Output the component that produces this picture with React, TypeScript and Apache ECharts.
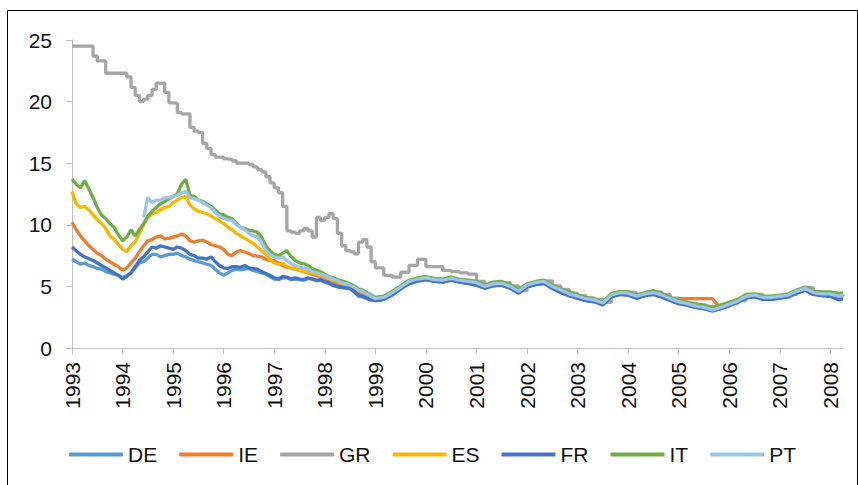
import React, { useEffect, useRef } from "react";
import * as echarts from "echarts";

// Sample dates: monthly 1993-1998, every second month from 1999
const monthly: string[] = [];
for (let y = 1993; y <= 1998; y++) for (let m = 1; m <= 12; m++) monthly.push(`${y}-${String(m).padStart(2, "0")}`);
const bimonthly: string[] = [];
for (let y = 1999; y <= 2007; y++) for (const m of [1, 3, 5, 7, 9, 11]) bimonthly.push(`${y}-${String(m).padStart(2, "0")}`);
const dates: string[] = [...monthly, ...bimonthly, "2008-01", "2008-03", "2008-04"];

const yearTicks = [1993, 1994, 1995, 1996, 1997, 1998, 1999, 2000, 2001, 2002, 2003, 2004, 2005, 2006, 2007, 2008];
const seriesNames = ["DE", "IE", "GR", "ES", "FR", "IT", "PT"];
const seriesColors = ["#5B9BD5", "#ED7D31", "#A5A5A5", "#F5B800", "#4472C4", "#70AD47", "#9DC3E6"];

const DE = [
  7.2, 7.0, 6.8, 6.9, 6.7, 6.6, 6.45, 6.4, 6.2, 6.1, 6.0, 5.9,
  5.7, 5.9, 6.1, 6.5, 6.9, 7.0, 7.3, 7.6, 7.6, 7.4, 7.5, 7.6,
  7.6, 7.7, 7.5, 7.4, 7.2, 7.1, 7.0, 6.9, 6.8, 6.7, 6.4, 6.1,
  5.9, 6.1, 6.3, 6.4, 6.35, 6.4, 6.45, 6.3, 6.2, 6.1, 6.0, 5.8,
  5.6, 5.55, 5.7, 5.7, 5.55, 5.6, 5.55, 5.5, 5.65, 5.6, 5.45, 5.5,
  5.35, 5.25, 5.05, 4.95, 4.9, 4.85, 4.8, 4.55, 4.2, 4.15, 4.0, 3.9,
  3.85, 3.95, 4.3, 4.8, 5.2, 5.4,
  5.55, 5.4, 5.35, 5.5, 5.35, 5.25,
  5.1, 4.85, 5.05, 5.1, 4.85, 4.45,
  4.95, 5.15, 5.25, 4.85, 4.5, 4.25,
  4.05, 3.85, 3.75, 3.5, 4.15, 4.35,
  4.3, 4.05, 4.25, 4.35, 4.15, 3.85,
  3.6, 3.5, 3.3, 3.2, 3.0, 3.2,
  3.45, 3.7, 4.1, 4.2, 3.95, 3.95,
  4.05, 4.15, 4.5, 4.7, 4.35, 4.25,
  4.2, 4.0, 4.1,
];

const IE = [
  10.2, 9.6, 9.1, 8.7, 8.3, 8.0, 7.7, 7.5, 7.2, 7.0, 6.8, 6.6,
  6.3, 6.5, 6.9, 7.3, 7.8, 8.3, 8.7, 8.8, 9.0, 9.1, 8.85, 8.9,
  9.0, 9.1, 9.25, 9.1, 8.7, 8.6, 8.7, 8.75, 8.6, 8.4, 8.3, 8.2,
  8.0, 7.6, 7.5, 7.8, 7.9, 7.8, 7.65, 7.5, 7.45, 7.4, 7.2, 7.1,
  7.1, 6.9, 6.7, 6.55, 6.5, 6.4, 6.35, 6.2, 6.1, 6.0, 5.9, 5.8,
  5.7, 5.5, 5.35, 5.25, 5.15, 5.0, 4.95, 4.8, 4.5, 4.4, 4.2, 4.1,
  3.95, 4.05, 4.45, 4.9, 5.35, 5.55,
  5.65, 5.5, 5.45, 5.6, 5.45, 5.35,
  5.25, 4.95, 5.15, 5.2, 4.95, 4.55,
  5.05, 5.25, 5.35, 4.95, 4.65, 4.35,
  4.15, 3.95, 3.85, 3.6, 4.25, 4.45,
  4.4, 4.15, 4.35, 4.45, 4.2, 4.0,
  4.0, 4.0, 4.0, 4.0, 4.0, 3.2,
  3.5, 3.75, 4.15, 4.25, 4.05, 4.05,
  4.15, 4.25, 4.55, 4.8, 4.45, 4.35,
  4.35, 4.15, 4.25,
];

const GR = [
  24.5, 24.5, 24.5, 24.5, 24.5, 23.7, 23.3, 23.3, 22.3, 22.3, 22.3, 22.3,
  22.3, 22.0, 21.15, 20.5, 20.0, 20.2, 20.5, 21.0, 21.5, 21.5, 20.75, 19.9,
  19.85, 19.1, 19.0, 19.0, 17.9, 17.6, 17.5, 16.6, 16.2, 15.7, 15.5, 15.5,
  15.35, 15.3, 15.2, 15.0, 15.0, 15.0, 14.9, 14.7, 14.5, 14.3, 13.9, 13.4,
  13.0, 12.6, 11.5, 9.5, 9.4, 9.3, 9.5, 9.7, 9.5, 9.0, 10.6, 10.35,
  10.6, 10.9, 10.5, 9.3, 8.3, 7.9, 7.8, 7.65, 8.6, 8.8, 8.2, 7.0,
  6.5, 5.9, 5.75, 6.15, 6.7, 7.2,
  6.6, 6.6, 6.3, 6.2, 6.1, 6.0,
  5.4, 5.05, 5.25, 5.3, 5.05, 4.65,
  5.15, 5.35, 5.45, 5.05, 4.75, 4.45,
  4.25, 4.05, 3.95, 3.7, 4.35, 4.55,
  4.5, 4.25, 4.45, 4.55, 4.35, 4.05,
  3.8, 3.65, 3.45, 3.35, 3.15, 3.35,
  3.6, 3.85, 4.25, 4.35, 4.15, 4.15,
  4.25, 4.35, 4.65, 4.9, 4.55, 4.45,
  4.45, 4.25, 4.35,
];

const ES = [
  12.7, 11.7, 11.4, 11.5, 11.2, 10.8, 10.4, 10.1, 9.7, 9.1, 8.8, 8.4,
  8.0, 7.8, 8.3, 8.6, 9.3, 10.0, 10.6, 10.9, 11.0, 11.2, 11.4, 11.5,
  11.8, 12.0, 12.2, 12.3, 11.6, 11.3, 11.1, 11.0, 10.9, 10.7, 10.5, 10.3,
  10.1, 9.8, 9.6, 9.3, 9.1, 8.9, 8.7, 8.5, 8.2, 7.9, 7.6, 7.2,
  6.9, 6.8, 6.9, 6.6, 6.5, 6.4, 6.3, 6.2, 6.15, 6.1, 6.0, 5.9,
  5.8, 5.65, 5.5, 5.4, 5.25, 5.15, 5.05, 4.9, 4.65, 4.55, 4.35, 4.15,
  3.95, 4.05, 4.45, 4.9, 5.35, 5.55,
  5.65, 5.5, 5.45, 5.6, 5.45, 5.35,
  5.25, 4.95, 5.15, 5.2, 4.95, 4.55,
  5.05, 5.25, 5.35, 4.95, 4.65, 4.35,
  4.15, 3.95, 3.85, 3.6, 4.25, 4.45,
  4.4, 4.15, 4.35, 4.45, 4.25, 3.95,
  3.7, 3.55, 3.35, 3.25, 3.05, 3.25,
  3.5, 3.75, 4.15, 4.25, 4.05, 4.05,
  4.15, 4.25, 4.55, 4.8, 4.45, 4.35,
  4.35, 4.15, 4.25,
];

const FR = [
  8.2, 7.9, 7.6, 7.4, 7.25, 7.1, 6.9, 6.7, 6.5, 6.3, 6.1, 5.9,
  5.6, 5.8, 6.1, 6.6, 7.1, 7.4, 7.8, 8.2, 8.1, 8.3, 8.2, 8.1,
  8.0, 8.2, 8.1, 7.9, 7.6, 7.5, 7.3, 7.3, 7.2, 7.4, 7.0, 6.7,
  6.5, 6.45, 6.6, 6.6, 6.55, 6.7, 6.5, 6.45, 6.4, 6.2, 6.05, 5.9,
  5.7, 5.6, 5.8, 5.75, 5.6, 5.7, 5.6, 5.55, 5.7, 5.6, 5.5, 5.55,
  5.4, 5.3, 5.1, 5.0, 4.95, 4.9, 4.85, 4.6, 4.3, 4.2, 4.05, 3.9,
  3.85, 3.95, 4.3, 4.8, 5.25, 5.45,
  5.55, 5.4, 5.35, 5.5, 5.35, 5.25,
  5.1, 4.85, 5.05, 5.1, 4.85, 4.45,
  4.95, 5.15, 5.25, 4.85, 4.5, 4.25,
  4.05, 3.85, 3.75, 3.5, 4.15, 4.35,
  4.3, 4.05, 4.25, 4.35, 4.15, 3.85,
  3.6, 3.45, 3.3, 3.2, 3.0, 3.2,
  3.45, 3.7, 4.05, 4.15, 3.95, 3.95,
  4.05, 4.15, 4.45, 4.7, 4.35, 4.25,
  4.2, 3.9, 4.0,
];

const IT = [
  13.7, 13.3, 13.0, 13.6, 12.9, 12.2, 11.4, 10.8, 10.5, 10.1, 9.8, 9.2,
  8.7, 9.0, 9.6, 9.1, 9.6, 10.1, 10.7, 11.1, 11.4, 11.7, 11.9, 12.1,
  12.3, 12.5, 13.3, 13.7, 12.4, 12.3, 12.0, 11.9, 11.7, 11.5, 11.2, 10.9,
  10.8, 10.6, 10.5, 10.1, 9.8, 9.7, 9.55, 9.5, 9.4, 9.0, 8.3, 7.9,
  7.6, 7.5, 7.7, 7.9, 7.4, 7.1, 6.9, 6.85, 6.7, 6.45, 6.3, 6.2,
  6.0, 5.8, 5.7, 5.55, 5.45, 5.35, 5.2, 5.05, 4.8, 4.7, 4.5, 4.3,
  4.1, 4.2, 4.6, 5.05, 5.5, 5.7,
  5.8, 5.65, 5.6, 5.75, 5.6, 5.5,
  5.4, 5.1, 5.35, 5.4, 5.15, 4.75,
  5.2, 5.4, 5.5, 5.1, 4.8, 4.55,
  4.3, 4.1, 4.0, 3.75, 4.4, 4.6,
  4.55, 4.3, 4.5, 4.65, 4.4, 4.1,
  3.85, 3.7, 3.55, 3.5, 3.3, 3.5,
  3.7, 3.95, 4.35, 4.4, 4.2, 4.2,
  4.3, 4.4, 4.7, 4.95, 4.6, 4.55,
  4.55, 4.4, 4.5,
];

const PT: (number | null)[] = [
  null, null, null, null, null, null, null, null, null, null, null, null,
  null, null, null, null, null, 10.6, 12.2, 11.8, 12.0, 12.0, 12.2, 12.2,
  12.3, 12.4, 12.6, 12.7, 12.2, 12.1, 12.0, 11.8, 11.6, 11.4, 11.0, 10.7,
  10.5, 10.4, 10.35, 10.0, 9.8, 9.6, 9.3, 9.1, 9.0, 8.6, 7.9, 7.6,
  7.4, 7.3, 7.4, 7.1, 6.85, 6.7, 6.55, 6.5, 6.4, 6.2, 6.1, 6.0,
  5.9, 5.75, 5.6, 5.45, 5.3, 5.2, 5.1, 4.95, 4.7, 4.6, 4.4, 4.2,
  4.0, 4.1, 4.5, 4.95, 5.4, 5.6,
  5.7, 5.55, 5.5, 5.65, 5.5, 5.4,
  5.3, 5.0, 5.2, 5.25, 5.0, 4.6,
  5.1, 5.3, 5.4, 5.0, 4.7, 4.4,
  4.2, 4.0, 3.9, 3.65, 4.3, 4.5,
  4.45, 4.2, 4.4, 4.5, 4.3, 4.0,
  3.75, 3.6, 3.4, 3.3, 3.1, 3.3,
  3.55, 3.8, 4.2, 4.3, 4.1, 4.1,
  4.2, 4.3, 4.6, 4.85, 4.5, 4.4,
  4.4, 4.2, 4.3,
];

const allValues = [DE, IE, GR, ES, FR, IT, PT];

const toYear = (d: string) => {
  const [y, m] = d.split("-").map(Number);
  return y + (m - 1) / 12;
};

const FONT = "'Liberation Sans', Arial, sans-serif";

export default function App() {
  const ref = useRef<HTMLDivElement>(null);
  useEffect(() => {
    document.body.style.margin = "0";
    if (!ref.current) return;
    const chart = echarts.init(ref.current, undefined, { renderer: "svg" });
    const series = seriesNames.map((name, si) => ({
      name,
      type: "line",
      step: name === "GR" ? "end" : undefined,
      showSymbol: false,
      symbol: "none",
      lineStyle: { width: 3.3, color: seriesColors[si] },
      itemStyle: { color: seriesColors[si] },
      data: dates
        .map((d, i) => [toYear(d), allValues[si][i]])
        .filter((p) => p[1] !== null && p[1] !== undefined),
    }));
    chart.setOption({
      animation: false,
      color: seriesColors,
      textStyle: { fontFamily: FONT },
      grid: { left: 72, right: 15, top: 40, bottom: 137, containLabel: false },
      xAxis: {
        type: "value",
        min: 1993,
        max: 2008.25,
        interval: 1,
        splitLine: { show: false },
        axisLine: { show: true, lineStyle: { color: "#BFBFBF", width: 1 } },
        axisTick: { show: true, length: 6, lineStyle: { color: "#BFBFBF" }, customValues: yearTicks },
        axisLabel: {
          rotate: 90,
          fontSize: 21,
          color: "#111",
          fontFamily: FONT,
          margin: 14,
          customValues: yearTicks,
          formatter: (v: number) => String(Math.round(v)),
        },
      },
      yAxis: {
        type: "value",
        min: 0,
        max: 25,
        interval: 5,
        splitLine: { show: false },
        axisLine: { show: true, lineStyle: { color: "#BFBFBF", width: 1 } },
        axisTick: { show: true, length: 6, lineStyle: { color: "#BFBFBF" } },
        axisLabel: { fontSize: 21, color: "#111", fontFamily: FONT, margin: 20 },
      },
      legend: {
        data: seriesNames,
        left: 64,
        top: 439,
        icon: "roundRect",
        itemWidth: 54,
        itemHeight: 4,
        itemGap: 22,
        textStyle: { fontSize: 21, color: "#111", fontFamily: FONT },
      },
      graphic: [
        {
          type: "rect",
          shape: { x: 7.5, y: 10.5, width: 850, height: 490 },
          style: { fill: "none", stroke: "#000", lineWidth: 1 },
          silent: true,
        },
      ],
      series,
    });
    return () => chart.dispose();
  }, []);
  return (
    <div style={{ position: "absolute", left: 0, top: 0, width: 858, height: 485, background: "#fff" }}>
      <div ref={ref} style={{ width: 858, height: 485 }} />
    </div>
  );
}
